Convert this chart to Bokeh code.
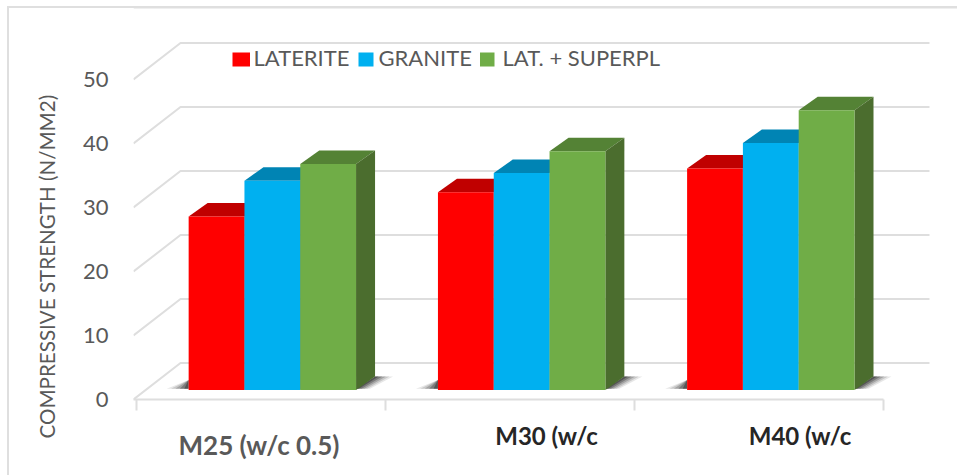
from bokeh.plotting import figure
from bokeh.models import FixedTicker, LinearAxis, Title
from bokeh.core.properties import value
from bokeh.embed import file_html
from bokeh.resources import INLINE

categories = ["M25 (w/c 0.5)", "M30 (w/c", "M40 (w/c"]
series_names = ["LATERITE", "GRANITE", "LAT. + SUPERPL"]
laterite = [27.1, 30.9, 34.6]
granite = [32.7, 33.9, 38.6]
superpl = [35.3, 37.3, 43.7]
y_ticks = [0, 10, 20, 30, 40, 50]
y_title = "COMPRESSIVE STRENGTH (N/MM2)"

FONT = "Lato"
PX_X = 249.0
PX_Y = 6.4
front = ["#ff0000", "#00b0f0", "#70ad47"]
top = ["#c00000", "#0084b4", "#548235"]
side = ["#bf0000", "#00749f", "#4b6d2e"]
GRID = "#dedede"
TEXT = "#595959"

def X(px):
    return (px - 136) / PX_X

def Y(py):
    return (399 - py) / PX_Y

p = figure(width=957, height=475, output_backend="svg", toolbar_location=None,
           x_range=(X(133), X(957)), y_range=(0, Y(0)),
           min_border_left=133, min_border_right=0, min_border_top=0, min_border_bottom=76,
           background_fill_color=None, border_fill_color=None)
p.outline_line_color = None
p.grid.visible = False
p.styles = {"background": "linear-gradient(#dfdfdf,#dfdfdf) 7px 6px/2px 100% no-repeat,"
                          "linear-gradient(#dfdfdf,#dfdfdf) 7px 6px/100% 2px no-repeat"}

# axes
p.yaxis.ticker = FixedTicker(ticks=y_ticks)
p.yaxis.axis_line_color = None
p.yaxis.major_tick_line_color = None
p.yaxis.minor_tick_line_color = None
p.yaxis.major_label_standoff = 19
p.yaxis.major_label_text_font = FONT
p.yaxis.major_label_text_font_size = "22px"
p.yaxis.major_label_text_color = TEXT

p.add_layout(Title(text=y_title, align="left", offset=-39, standoff=42, text_font=FONT,
                   text_font_size="20.6px", text_font_style="normal", text_color=TEXT), "left")

xa = p.xaxis[0]
xa.ticker = FixedTicker(ticks=[0, 1, 2, 3])
xa.bounds = (X(133), 3)
xa.axis_line_color = GRID
xa.axis_line_width = 2
xa.major_tick_line_color = GRID
xa.major_tick_line_width = 2
xa.major_tick_in = 0
xa.major_tick_out = 11
xa.minor_tick_line_color = None
xa.major_label_text_color = None
xa.major_label_text_font_size = "1px"
xa.major_label_standoff = 0

def cat_axis(pos, text, color, standoff, size):
    ax = LinearAxis(ticker=FixedTicker(ticks=pos), axis_line_color=None, major_tick_line_color=None,
                    minor_tick_line_color=None, major_tick_out=0, major_tick_in=0,
                    major_label_overrides=dict(zip(pos, text)), major_label_text_font=FONT,
                    major_label_text_font_size=size, major_label_text_font_style="bold",
                    major_label_text_color=color, major_label_standoff=standoff)
    p.add_layout(ax, "below")

cat_axis([1.647, 2.665], categories[1:], "#262626", 10, "24px")
cat_axis([0.492], categories[:1], TEXT, -24, "26px")

# top border inside the frame region
p.line([X(133), X(957)], [Y(7), Y(7)], line_color="#dfdfdf", line_width=2)

# back wall and side wall gridlines
BACK_DX = 47 / PX_X
BACK_DY = 36.5 / PX_Y
x_left = X(133)
for t in y_ticks:
    p.line([x_left, x_left + BACK_DX, X(929)], [t, t + BACK_DY, t + BACK_DY],
           line_color=GRID, line_width=2)

# bars
DEPTH_X = 19 / PX_X
DEPTH_Y = 13.5 / PX_Y
BASE = Y(389.5)
BAR_W = 55.8 / PX_X
CENTERS = [X(271.85), X(521.15), X(770.3)]
series = [laterite, granite, superpl]

# floor shadows
for c in CENTERS:
    l = c - 1.5 * BAR_W
    r = c + 1.5 * BAR_W
    for k, a in [(1.0, 0.1), (0.8, 0.14), (0.6, 0.2), (0.4, 0.28), (0.2, 0.35)]:
        p.patch([l, l, l - k * 22 / PX_X], [BASE + 0.2, BASE + 10 / PX_Y, BASE + 0.2],
                fill_color="#111111", fill_alpha=a, line_color=None)
        p.patch([r, r + DEPTH_X, r + DEPTH_X + k * 18 / PX_X, r + k * 14 / PX_X],
                [BASE + 0.2, BASE + DEPTH_Y, BASE + DEPTH_Y, BASE + 0.2],
                fill_color="#111111", fill_alpha=a, line_color=None)

for s, vals in enumerate(series):
    for c, v in zip(CENTERS, vals):
        x0 = c + (s - 1.5) * BAR_W
        x1 = x0 + BAR_W
        h = BASE + v
        p.patch([x0, x0 + DEPTH_X, x1 + DEPTH_X, x1], [h, h + DEPTH_Y, h + DEPTH_Y, h],
                fill_color=top[s], line_color=None)
        p.patch([x1, x1 + DEPTH_X, x1 + DEPTH_X, x1],
                [BASE, BASE + DEPTH_Y, h + DEPTH_Y, h],
                fill_color=side[s], line_color=None)
        p.vbar(x=[(x0 + x1) / 2], width=BAR_W, bottom=BASE, top=h,
               fill_color=front[s], line_color=None)

# legend
leg = [(232, 249.5, 253), (358, 373, 378), (479.5, 494, 502)]
for (a, b, tx), name, col in zip(leg, series_names, front):
    p.quad(left=[X(a)], right=[X(b)], bottom=[Y(66)], top=[Y(52)], fill_color=col, line_color=None)
    p.text([X(tx)], [Y(57)], text=[name], text_font=value(FONT), text_font_size="22px",
           text_color=TEXT, text_baseline="middle", text_align="left")

open("out.html", "w").write(file_html(p, INLINE))
